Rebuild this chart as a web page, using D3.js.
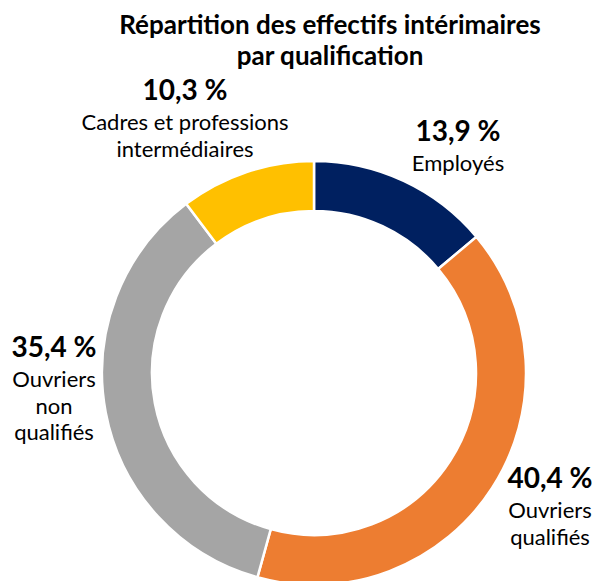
<!DOCTYPE html>
<html>
<head>
<meta charset="utf-8">
<script src="https://cdn.jsdelivr.net/npm/d3@7"></script>
<style>
  body { margin: 0; background: #fff; }
  text { font-family: Lato, "Liberation Sans", sans-serif; fill: #000; }
</style>
</head>
<body>
<div id="container"></div>
<script>
/* DATA */
const categories = ["Employés", "Ouvriers qualifiés", "Ouvriers non qualifiés", "Cadres et professions intermédiaires"];
const values = [13.9, 40.4, 35.4, 10.3];
const colors = ["#002060", "#ED7D31", "#A5A5A5", "#FFC000"];
const labelLines = [
  ["Employés"],
  ["Ouvriers", "qualifiés"],
  ["Ouvriers", "non", "qualifiés"],
  ["Cadres et professions", "intermédiaires"]
];
const titleLines = ["Répartition des effectifs intérimaires", "par qualification"];

/* LAYOUT */
const width = 597, height = 581;
const cx = 314, cy = 373;
const outerR = 212, innerR = 162;
// label anchors (center x, baseline of the percentage)
const labelPos = [[458, 141], [550, 488], [54, 357], [185, 100]];

const fmt = v => d3.format(".1f")(v).replace(".", ",") + " %";

const svg = d3.select("#container")
  .append("svg")
  .attr("width", width)
  .attr("height", height);

// title
svg.append("g")
  .selectAll("text")
  .data(titleLines)
  .join("text")
  .attr("x", 330)
  .attr("y", (d, i) => 34 + i * 31)
  .attr("text-anchor", "middle")
  .style("font-weight", "bold")
  .style("font-size", "26px")
  .text(d => d);

const data = values.map((v, i) => ({name: categories[i], value: v, color: colors[i], lines: labelLines[i]}));

const pie = d3.pie().sort(null).value(d => d.value);
const arc = d3.arc().innerRadius(innerR).outerRadius(outerR);

const g = svg.append("g").attr("transform", `translate(${cx},${cy})`);

g.selectAll("path")
  .data(pie(data))
  .join("path")
  .attr("d", arc)
  .attr("fill", d => d.data.color)
  .attr("stroke", "#fff")
  .attr("stroke-width", 2.5);

// labels
const labels = svg.append("g")
  .selectAll("g")
  .data(data)
  .join("g")
  .attr("transform", (d, i) => `translate(${labelPos[i][0]},${labelPos[i][1]})`);

labels.append("text")
  .attr("text-anchor", "middle")
  .style("font-weight", "bold")
  .style("font-size", "28px")
  .text(d => fmt(d.value));

labels.each(function(d) {
  d3.select(this).selectAll("text.cat")
    .data(d.lines)
    .join("text")
    .attr("class", "cat")
    .attr("text-anchor", "middle")
    .attr("y", (t, j) => 30 + j * 26.5)
    .style("font-size", "22px")
    .text(t => t);
});
</script>
</body>
</html>
